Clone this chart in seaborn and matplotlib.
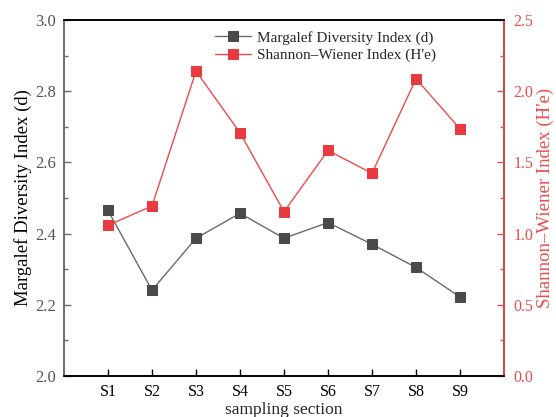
import matplotlib
matplotlib.use("Agg")
import matplotlib.pyplot as plt
from matplotlib.ticker import MultipleLocator
import pandas as pd
import seaborn as sns

# === data ===
sections = ["S1", "S2", "S3", "S4", "S5", "S6", "S7", "S8", "S9"]
margalef = [2.465, 2.241, 2.387, 2.457, 2.387, 2.431, 2.370, 2.305, 2.222]
shannon = [1.058, 1.194, 2.141, 1.708, 1.154, 1.584, 1.423, 2.087, 1.736]

df = pd.DataFrame({"pos": range(1, len(sections) + 1),
                   "section": sections,
                   "margalef": margalef,
                   "shannon": shannon})

sns.set_theme(style="ticks")
plt.rcParams["font.family"] = ["Liberation Serif", "DejaVu Serif"]

gray_line = "#6a6a6a"
gray_mark = "#4a4a4a"
red_line = "#f04a4a"
red_mark = "#e83a3f"

fig = plt.figure(figsize=(5.56, 4.17), dpi=100)
ax = fig.add_axes([0.1151, 0.0983, 0.7914, 0.8537])
ax2 = ax.twinx()

sns.lineplot(data=df, x="pos", y="margalef", ax=ax, color=gray_line,
             linewidth=1, marker="s", markersize=6.5, markerfacecolor=gray_mark,
             markeredgecolor=gray_mark, label="Margalef Diversity Index (d)",
             legend=False)
sns.lineplot(data=df, x="pos", y="shannon", ax=ax2, color=red_line,
             linewidth=1, marker="s", markersize=6.5, markerfacecolor=red_mark,
             markeredgecolor=red_mark, label="Shannon\u2013Wiener Index (H'e)",
             legend=False)

# axes ranges and ticks
ax.set_xlim(0, len(sections) + 1)
ax.set_xticks(df["pos"])
ax.set_xticklabels(sections)
ax.set_ylim(2.0, 3.0)
ax.yaxis.set_major_locator(MultipleLocator(0.2))
ax.yaxis.set_minor_locator(MultipleLocator(0.1))
ax2.set_ylim(0, 2.5)
ax2.yaxis.set_major_locator(MultipleLocator(0.5))
ax2.yaxis.set_minor_locator(MultipleLocator(0.25))

ax.tick_params(axis="both", which="major", direction="in", length=5,
               width=1, pad=4)
ax.tick_params(axis="y", which="minor", direction="in", length=3, width=1,
               color=gray_line)
ax.tick_params(axis="y", which="major", color=gray_line, labelcolor="#555555",
               labelsize=12, pad=6)
ax.tick_params(axis="x", which="major", color="black", labelcolor="black",
               labelsize=11.5, pad=6)
ax2.tick_params(axis="y", which="major", direction="in", length=5, width=1,
                color=red_line, labelcolor=red_line, labelsize=11.5, pad=7)
ax2.tick_params(axis="y", which="minor", direction="in", length=3, width=1,
                color=red_line)

# spines
for a in (ax, ax2):
    for sp in a.spines.values():
        sp.set_linewidth(1.2)
    a.spines["top"].set_color("black")
    a.spines["bottom"].set_color("black")
    a.spines["left"].set_color(gray_line)
ax2.spines["right"].set_color(red_line)

ax.set_xlabel("sampling section", fontsize=12.5, labelpad=1)
ax.set_ylabel("Margalef Diversity Index (d)", fontsize=13.5, color="black",
              labelpad=2)
ax2.set_ylabel("Shannon\u2013Wiener Index (H'e)", fontsize=13.5,
               color=red_line, labelpad=2)

# combined legend
h1, l1 = ax.get_legend_handles_labels()
h2, l2 = ax2.get_legend_handles_labels()
ax2.legend(h1 + h2, l1 + l2, loc="upper left", bbox_to_anchor=(0.32, 1.0),
           frameon=False, fontsize=11, handlelength=2.3,
           handletextpad=0.4, labelspacing=0.25, borderaxespad=0.3)

fig.savefig("out.png", dpi=100)
